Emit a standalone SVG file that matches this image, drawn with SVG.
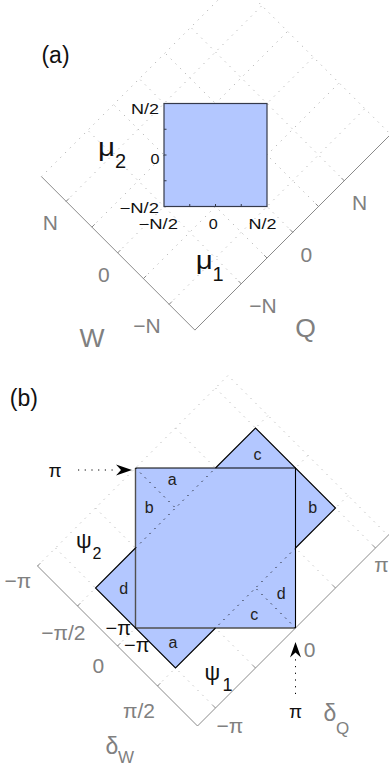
<svg xmlns="http://www.w3.org/2000/svg" width="389" height="768" viewBox="0 0 389 768">
<style>
text { font-family: "Liberation Sans", Arial, sans-serif; }
.grid { stroke:#b4b4b4; stroke-width:1; stroke-dasharray:1.2 5.5; fill:none; }
.ax { stroke:#8a8a8a; stroke-width:1; fill:none; }
.dot { stroke:#000; stroke-width:1; stroke-dasharray:1.2 5.5; fill:none; }
.edge { stroke:#000; stroke-width:1.1; fill:none; stroke-linejoin:miter; }
.edge2 { stroke:#505050; stroke-width:1.4; fill:none; }
.fillc { fill:#b3c7ff; }
.gl { fill:#808080; font-size:21px; text-anchor:middle; }
.tl { fill:#111; font-size:14.5px; }
.rl { fill:#222; font-size:16px; text-anchor:middle; }
.bk { fill:#111; }
.gy { fill:#808080; }
</style>
<rect width="389" height="768" fill="#fff"/>

<g id="panel-a">
  <g id="a-grid">
    <path class="grid" d="M169.15,304.35 L364.85,108.65 M143.4,278.6 L339.1,82.9 M117.65,252.85 L313.35,57.15 M91.9,227.1 L287.6,31.4 M66.15,201.35 L261.85,5.65 M241.25,283.75 L87.78,130.28 M267,258 L113.53,104.53 M292.75,232.25 L139.28,78.78 M318.5,206.5 L165.03,53.03 M344.25,180.75 L190.78,27.28 M41.43,176.63 L237.13,-19.07 L390.6,134.4"/>
  </g>
  <g id="a-axes">
    <path class="ax" d="M41.43,176.63 L194.9,330.1 L390.6,134.4"/>
    <path class="ax" d="M169.15,304.35 l2.8,-2.8 M143.4,278.6 l2.8,-2.8 M117.65,252.85 l2.8,-2.8 M91.9,227.1 l2.8,-2.8 M66.15,201.35 l2.8,-2.8 M241.25,283.75 l-2.8,-2.8 M267,258 l-2.8,-2.8 M292.75,232.25 l-2.8,-2.8 M318.5,206.5 l-2.8,-2.8 M344.25,180.75 l-2.8,-2.8"/>
  </g>
  <g id="a-square">
    <rect x="164" y="103.5" width="103" height="103" class="fillc" stroke="#353a4a" stroke-width="1.2"/>
    <path d="M164,129.25 h2.5 M164,155 h2.5 M164,180.75 h2.5 M189.75,206.5 v-2.5 M215.5,206.5 v-2.5 M241.25,206.5 v-2.5" stroke="#353a4a" stroke-width="1"/>
  </g>
  <g id="a-labels">
    <text x="55.5" y="62.7" font-size="23" class="bk" text-anchor="middle">(a)</text>
    <text x="131" y="114.3" class="tl" textLength="28" lengthAdjust="spacingAndGlyphs">N/2</text>
    <text x="150.5" y="164" class="tl" textLength="9" lengthAdjust="spacingAndGlyphs">0</text>
    <text x="119.5" y="212.7" class="tl" textLength="39.5" lengthAdjust="spacingAndGlyphs">−N/2</text>
    <text x="138.5" y="228.5" class="tl" textLength="39.5" lengthAdjust="spacingAndGlyphs">−N/2</text>
    <text x="208.8" y="229" class="tl" textLength="9" lengthAdjust="spacingAndGlyphs">0</text>
    <text x="248.5" y="229" class="tl" textLength="28" lengthAdjust="spacingAndGlyphs">N/2</text>
    <text x="98" y="155.5" font-size="25" class="bk" textLength="17" lengthAdjust="spacingAndGlyphs">μ</text>
    <text x="115" y="167.7" font-size="20" class="bk">2</text>
    <text x="195.7" y="268.5" font-size="25" class="bk" textLength="17" lengthAdjust="spacingAndGlyphs">μ</text>
    <text x="212.5" y="281" font-size="20" class="bk">1</text>
    <text x="50.3" y="229.7" class="gl">N</text>
    <text x="103.8" y="281.5" class="gl">0</text>
    <text x="147" y="332.5" class="gl">−N</text>
    <text x="359.7" y="209.7" class="gl">N</text>
    <text x="306.3" y="261.5" class="gl">0</text>
    <text x="263" y="312.5" class="gl">−N</text>
    <text x="92" y="346.5" font-size="26.5" class="gy" text-anchor="middle">W</text>
    <text x="305.5" y="336.5" font-size="26.5" class="gy" text-anchor="middle">Q</text>
  </g>
</g>

<g id="panel-b">
  <g id="b-grid">
    <path class="grid" d="M37.5,566 L228,375.5 L388,535.5 M77.5,606 L268,415.5 M117.5,646 L308,455.5 M157.5,686 L348,495.5 M55.5,548 L215.5,708 M95.5,508 L255.5,668 M135.5,468 L295.5,628 M175.5,428 L335.5,588 M215.5,388 L375.5,548"/>
  </g>
  <g id="b-axes">
    <path class="ax" d="M37.5,566 L197.5,726 L391.5,532"/>
    <path class="ax" d="M37.5,566 l2.8,-2.8 M77.5,606 l2.8,-2.8 M117.5,646 l2.8,-2.8 M157.5,686 l2.8,-2.8 M215.5,708 l-2.8,-2.8 M255.5,668 l-2.8,-2.8 M295.5,628 l-2.8,-2.8 M335.5,588 l-2.8,-2.8 M375.5,548 l-2.8,-2.8"/>
  </g>
  <g id="b-region">
    <path class="fillc" d="M135.5,468 L215.5,468 L255.5,428 L295.5,468 L335.5,508 L295.5,548 L295.5,628 L215.5,628 L175.5,668 L95.5,588 L135.5,548 Z"/>
    <path class="edge2" d="M135.5,468 V628 H295.5"/>
    <path class="edge" d="M135.5,468 H295.5 V628"/>
    <path class="edge" d="M215.5,468 L255.5,428 L335.5,508 L295.5,548 M215.5,628 L175.5,668 L95.5,588 L135.5,548"/>
    <path class="dot" d="M135.5,548 L215.5,468 M295.5,548 L215.5,628 M135.5,468 L175.5,508 M295.5,628 L255.5,588"/>
  </g>
  <g id="b-arrows">
    <path class="dot" d="M78,470 H117"/>
    <path d="M132,470 L116,464.5 L121,470 L116,475.5 Z" fill="#000"/>
    <path class="dot" d="M295.5,694 V656"/>
    <path d="M295.5,642 L290,657.5 L295.5,652.5 L301,657.5 Z" fill="#000"/>
  </g>
  <g id="b-labels">
    <text x="23.8" y="406.3" font-size="23" class="bk" text-anchor="middle">(b)</text>
    <text x="55" y="476.5" font-size="19" class="bk" text-anchor="middle">π</text>
    <text x="295.5" y="718" font-size="19" class="bk" text-anchor="middle">π</text>
    <text x="118.3" y="635" font-size="20" class="bk" text-anchor="middle">−π</text>
    <text x="136.7" y="651.5" font-size="20" class="bk" text-anchor="middle">−π</text>
    <text x="76" y="548.2" font-size="22" class="bk">ψ</text>
    <text x="92.5" y="559" font-size="16" class="bk">2</text>
    <text x="204.5" y="680" font-size="22" class="bk">ψ</text>
    <text x="222.5" y="690.5" font-size="18" class="bk">1</text>
    <text x="18" y="588.3" class="gl">−π</text>
    <text x="63.3" y="640" class="gl">−π/2</text>
    <text x="98.3" y="673" class="gl">0</text>
    <text x="139" y="718" class="gl">π/2</text>
    <text x="309.5" y="657" class="gl">0</text>
    <text x="230" y="733" class="gl">−π</text>
    <text x="381.5" y="571.5" class="gl">π</text>
    <text x="105.5" y="753.5" font-size="23" class="gy">δ</text>
    <text x="118" y="763" font-size="17" class="gy">W</text>
    <text x="323.5" y="721" font-size="23" class="gy">δ</text>
    <text x="336" y="733.5" font-size="17" class="gy">Q</text>
    <text x="172.2" y="485" class="rl">a</text>
    <text x="149.2" y="512.5" class="rl">b</text>
    <text x="257.5" y="460" class="rl">c</text>
    <text x="312.8" y="513" class="rl">b</text>
    <text x="123.8" y="594" class="rl">d</text>
    <text x="173" y="647.5" class="rl">a</text>
    <text x="254.2" y="620" class="rl">c</text>
    <text x="281.3" y="599" class="rl">d</text>
  </g>
</g>
</svg>
